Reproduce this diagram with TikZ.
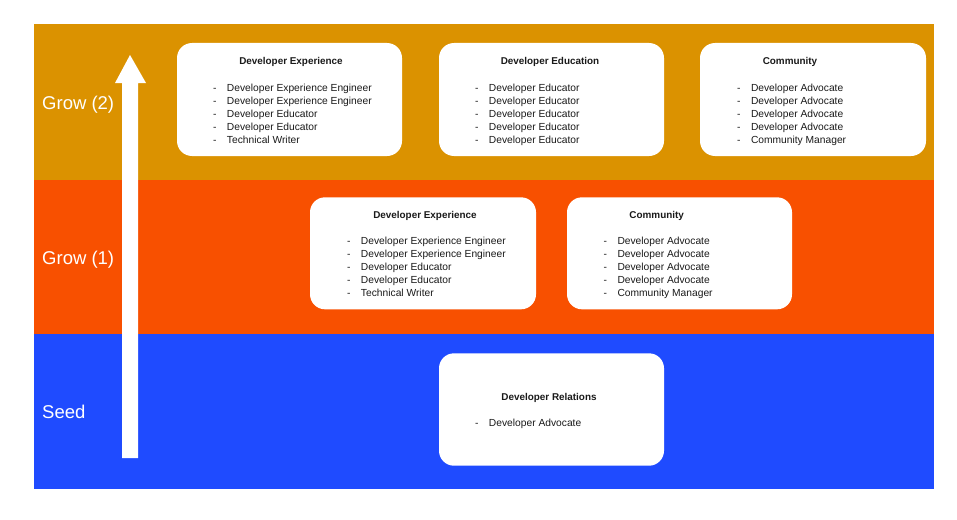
\documentclass[tikz,border=0pt]{standalone}
\usepackage{fontspec}
\setmainfont{Liberation Sans}
\definecolor{bandtop}{HTML}{DB9200}
\definecolor{bandmid}{HTML}{F85000}
\definecolor{bandlow}{HTML}{1F4BFF}
\definecolor{ink}{HTML}{1A1A1A}
\tikzset{
  band/.style={draw=none},
  rolebox/.style={draw=none, fill=white, rounded corners=15pt, inner sep=0pt},
  roletitle/.style={anchor=base, inner sep=0pt, text=ink, font=\fontsize{9.9}{12}\selectfont\bfseries},
  rolelist/.style={anchor=base west, inner sep=0pt, text=ink, font=\fontsize{10.25}{13}\selectfont},
  stagelabel/.style={anchor=base west, inner sep=0pt, text=white, font=\fontsize{18.5}{22}\selectfont},
}
\newcommand{\itm}[1]{\makebox[14pt][l]{-}#1}
\begin{document}
\begin{tikzpicture}[x=1pt,y=-1pt]
\useasboundingbox (0,0) rectangle (957,519);
% bands
\fill[bandtop] (33.5,24.5) rectangle (934,179.5);
\fill[bandmid] (33.5,179.5) rectangle (934,334);
\fill[bandlow] (33.5,334) rectangle (934,488.5);
% arrow
\fill[white] (122,458) -- (122,83) -- (115,83) -- (130,55) -- (146,83) -- (138,83) -- (138,458) -- cycle;
% stage labels
\node[stagelabel] (l2) at (42,109.5) {Grow (2)};
\node[stagelabel] (l1) at (42,264.5) {Grow (1)};
\node[stagelabel] (l0) at (42,418.5) {Seed};
% top row
\node[rolebox, minimum width=225pt, minimum height=113pt] (a1) at (289.5,99.5) {};
\node[roletitle] (a1t) at (291,64.3) {Developer Experience};
\node[rolelist] (a1l) at ([xshift=36pt]a1.west |- 0,91) {\begin{tabular}[t]{@{}l@{}}
\itm{Developer Experience Engineer}\\
\itm{Developer Experience Engineer}\\
\itm{Developer Educator}\\
\itm{Developer Educator}\\
\itm{Technical Writer}
\end{tabular}};
\node[rolebox, minimum width=225pt, minimum height=113pt] (a2) at (551.5,99.5) {};
\node[roletitle] (a2t) at (550,64.3) {Developer Education};
\node[rolelist] (a2l) at ([xshift=36pt]a2.west |- 0,91) {\begin{tabular}[t]{@{}l@{}}
\itm{Developer Educator}\\
\itm{Developer Educator}\\
\itm{Developer Educator}\\
\itm{Developer Educator}\\
\itm{Developer Educator}
\end{tabular}};
\node[rolebox, minimum width=226pt, minimum height=113pt] (a3) at (813,99.5) {};
\node[roletitle] (a3t) at (790,64.3) {Community};
\node[rolelist] (a3l) at ([xshift=37pt]a3.west |- 0,91) {\begin{tabular}[t]{@{}l@{}}
\itm{Developer Advocate}\\
\itm{Developer Advocate}\\
\itm{Developer Advocate}\\
\itm{Developer Advocate}\\
\itm{Community Manager}
\end{tabular}};
% middle row
\node[rolebox, minimum width=226pt, minimum height=112pt] (b1) at (423,253.3) {};
\node[roletitle] (b1t) at (425,218.3) {Developer Experience};
\node[rolelist] (b1l) at ([xshift=37pt]b1.west |- 0,244.8) {\begin{tabular}[t]{@{}l@{}}
\itm{Developer Experience Engineer}\\
\itm{Developer Experience Engineer}\\
\itm{Developer Educator}\\
\itm{Developer Educator}\\
\itm{Technical Writer}
\end{tabular}};
\node[rolebox, minimum width=225pt, minimum height=112pt] (b2) at (679.5,253.3) {};
\node[roletitle] (b2t) at (656.7,218.3) {Community};
\node[rolelist] (b2l) at ([xshift=36.5pt]b2.west |- 0,244.8) {\begin{tabular}[t]{@{}l@{}}
\itm{Developer Advocate}\\
\itm{Developer Advocate}\\
\itm{Developer Advocate}\\
\itm{Developer Advocate}\\
\itm{Community Manager}
\end{tabular}};
% bottom row
\node[rolebox, minimum width=225pt, minimum height=112.4pt] (c1) at (551.5,409.5) {};
\node[roletitle] (c1t) at (549,400) {Developer Relations};
\node[rolelist] (c1l) at ([xshift=36pt]c1.west |- 0,426) {\begin{tabular}[t]{@{}l@{}}
\itm{Developer Advocate}
\end{tabular}};
\end{tikzpicture}
\end{document}
